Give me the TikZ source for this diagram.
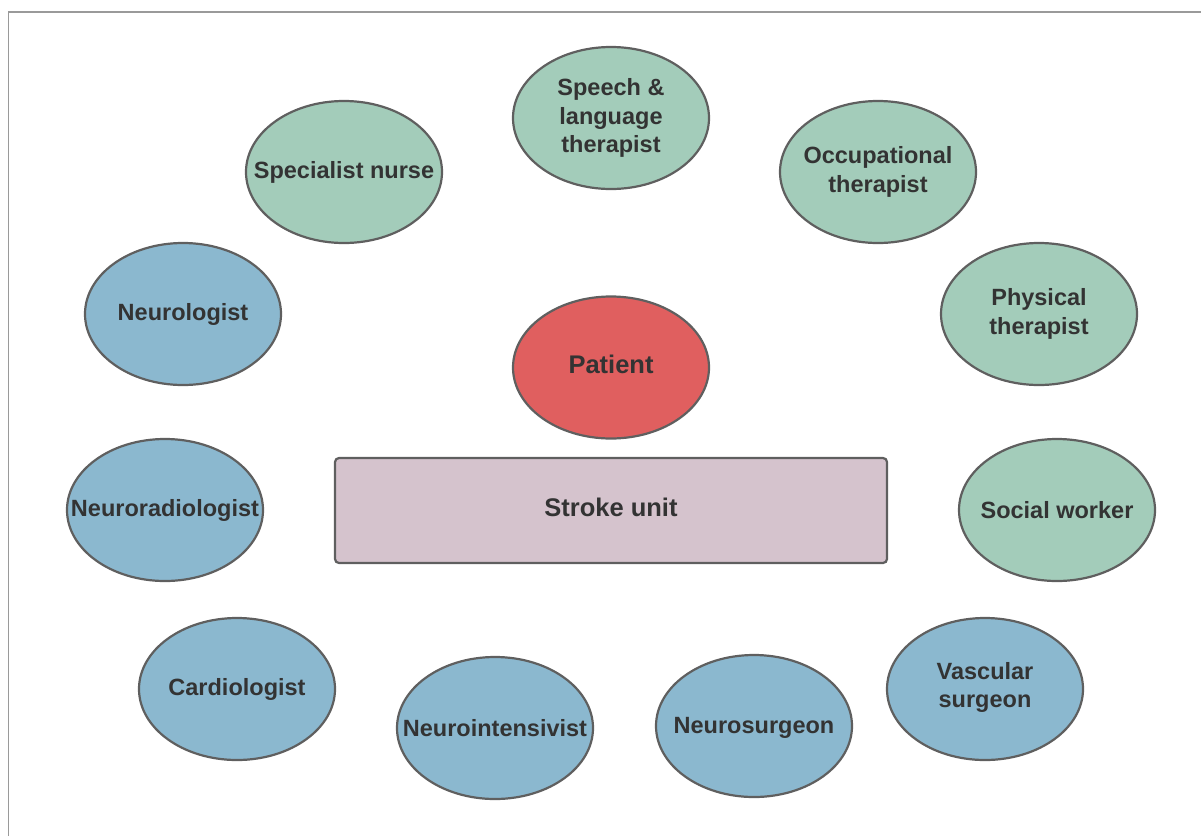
\documentclass[tikz,border=0pt]{standalone}
\usepackage{fontspec}
\setmainfont{Liberation Sans}
\usetikzlibrary{shapes.geometric}
\definecolor{cgreen}{HTML}{A3CCBA}
\definecolor{cblue}{HTML}{8BB8CF}
\definecolor{cred}{HTML}{E05F5F}
\definecolor{cpink}{HTML}{D5C3CD}
\definecolor{cline}{HTML}{5F5F5F}
\definecolor{ctext}{HTML}{333333}
\definecolor{cframe}{HTML}{9A9A9A}
\begin{document}
\begin{tikzpicture}[x=1pt,y=-1pt,
  txt/.style={text=ctext, font=\fontsize{23.5}{28.5}\selectfont\bfseries, align=center, inner sep=0pt},
  bigtxt/.style={text=ctext, font=\fontsize{25.5}{30}\selectfont\bfseries, align=center, inner sep=0pt, yshift=3.5pt},
  oval/.style={ellipse, draw=cline, line width=2.2pt, fill=#1, minimum width=196pt, minimum height=142pt, inner sep=0pt},
  unitbox/.style={rectangle, draw=cline, line width=2.2pt, fill=cpink, rounded corners=4pt, minimum width=552pt, minimum height=105pt, inner sep=0pt}]
\useasboundingbox (0,0) rectangle (1201,836);
\coordinate (f1) at (8.5,836);
\coordinate (f2) at (8.5,12);
\coordinate (f3) at (1201,12);
\draw[cframe, line width=1.5pt] (f1) -- (f2) -- (f3);

\node[oval=cgreen, label={[txt]center:Speech \&\\language\\therapist}] (speech) at (611,118) {};
\node[oval=cgreen, label={[txt]center:Specialist nurse}] (nurse) at (344,172) {};
\node[oval=cgreen, label={[txt]center:Occupational\\therapist}] (occ) at (878,172) {};
\node[oval=cblue, label={[txt]center:Neurologist}] (neurol) at (183,314) {};
\node[oval=cgreen, label={[txt]center:Physical\\therapist}] (phys) at (1039,314) {};
\node[oval=cred, label={[bigtxt]center:Patient}] (patient) at (611,367.5) {};
\node[unitbox, label={[bigtxt]center:Stroke unit}] (unit) at (611,510.5) {};
\node[oval=cblue, label={[txt]center:Neuroradiologist}] (nrad) at (165,510) {};
\node[oval=cgreen, label={[txt]center:Social worker}] (social) at (1057,510) {};
\node[oval=cblue, label={[txt]center:Cardiologist}] (cardio) at (237,689) {};
\node[oval=cblue, label={[txt]center:Neurointensivist}] (nint) at (495,728) {};
\node[oval=cblue, label={[txt,yshift=-1.5pt]center:Neurosurgeon}] (nsurg) at (754,726) {};
\node[oval=cblue, label={[txt,yshift=1.5pt]center:Vascular\\surgeon}] (vasc) at (985,689) {};
\end{tikzpicture}
\end{document}
